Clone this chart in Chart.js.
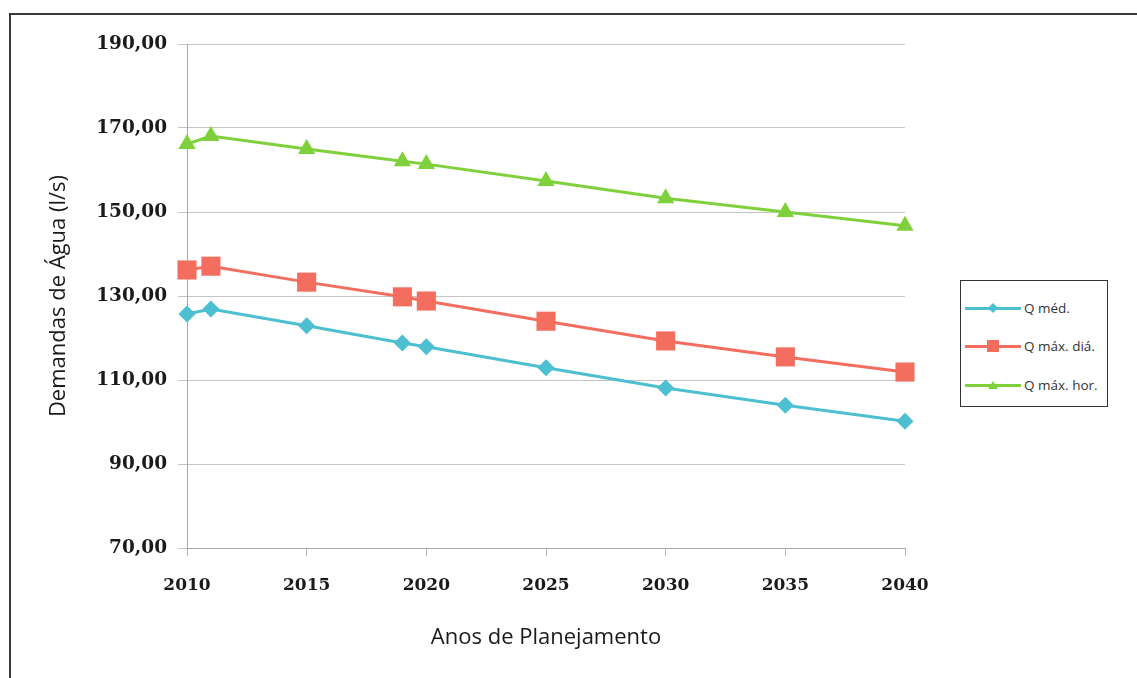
<!DOCTYPE html>
<html lang="pt">
<head>
  <meta charset="UTF-8">
  <title>Demandas de Água</title>
  <script src="https://cdn.jsdelivr.net/npm/chart.js"></script>
  <style>
    html, body { margin: 0; padding: 0; background: #fff; }
    .wrap { position: relative; width: 1137px; height: 678px; overflow: hidden; }
    .frame { position: absolute; left: 9px; top: 13px; width: 1200px; height: 700px;
             border-top: 2px solid #3a3a3a; border-left: 2px solid #3a3a3a; }
    canvas { position: absolute; left: 0; top: 0; }
    .legend { position: absolute; left: 960px; top: 280px; width: 146px; height: 125px;
              border: 1.5px solid #333; background: #fff; font-family: "Open Sans", Lato, sans-serif;
              font-size: 13.5px; color: #333; }
    .legend .row { position: absolute; left: 4px; height: 20px; display: flex; align-items: center; }
    .legend .sym { position: relative; width: 56px; height: 20px; margin-right: 3px; }
    .legend .sym .ln { position: absolute; left: 0; right: 0; top: 8.5px; height: 3px; }
    .legend .sym .mk { position: absolute; left: 50%; top: 50%; }
  </style>
</head>
<body>
<div class="wrap">
  <div class="frame"></div>
  <canvas id="chart" width="1137" height="678"></canvas>
  <div class="legend" id="legend"></div>
</div>
<script>
// --- dados
const anos = [2010, 2011, 2015, 2019, 2020, 2025, 2030, 2035, 2040];
const qMed = [125.7, 126.9, 122.9, 118.8, 117.9, 112.9, 108.1, 104.0, 100.2];
const qMaxDia = [136.2, 137.1, 133.3, 129.8, 128.8, 124.0, 119.3, 115.5, 111.9];
const qMaxHor = [166.2, 168.1, 165.0, 162.1, 161.4, 157.4, 153.3, 150.0, 146.7];
const nomesSeries = ['Q méd.', 'Q máx. diá.', 'Q máx. hor.'];
const coresSeries = ['#4cbfd0', '#f36e5e', '#7fd13b'];
const estilos = ['rectRot', 'rect', 'triangle'];
const raios = [8.5, 13.5, 10];
const yTicks = [70, 90, 110, 130, 150, 170, 190];

function pontos(valores) {
  return anos.map((a, i) => ({ x: a, y: valores[i] }));
}

const series = [qMed, qMaxDia, qMaxHor];
const datasets = series.map((vals, i) => ({
  label: nomesSeries[i],
  data: pontos(vals),
  borderColor: coresSeries[i],
  backgroundColor: coresSeries[i],
  borderWidth: 3,
  pointStyle: estilos[i],
  pointRadius: raios[i],
  pointBorderWidth: 0,
  tension: 0,
  clip: false
}));

const serif = '"DejaVu Serif", "Liberation Serif", serif';
const sans = '"Open Sans", Lato, sans-serif';

const ctx = document.getElementById('chart').getContext('2d');
const chart = new Chart(ctx, {
  type: 'line',
  data: { datasets: datasets },
  options: {
    responsive: false,
    animation: false,
    layout: { padding: { left: 0, top: 44, right: 232, bottom: 0 } },
    plugins: { legend: { display: false }, tooltip: { enabled: false } },
    scales: {
      x: {
        type: 'linear',
        min: 2010, max: 2040,
        afterFit: s => { s.height = 130; },
        ticks: {
          stepSize: 5,
          padding: 19,
          color: '#1a1a1a',
          font: { family: serif, size: 17, weight: 'bold' },
          callback: v => String(v)
        },
        grid: { drawOnChartArea: false, drawTicks: true, tickLength: 8, color: '#b8b8b8' },
        border: { color: '#a8a8a8', width: 1 },
        title: {
          display: true, text: 'Anos de Planejamento', color: '#1a1a1a',
          font: { family: sans, size: 22 }, padding: { top: 0, bottom: 27 }
        }
      },
      y: {
        min: 70, max: 190,
        afterFit: s => { s.width = 187; },
        afterBuildTicks: s => { s.ticks = yTicks.map(v => ({ value: v })); },
        ticks: {
          padding: 11,
          color: '#1a1a1a',
          font: { family: serif, size: 18.5, weight: 'bold' },
          callback: v => v.toFixed(2).replace('.', ',')
        },
        grid: { color: '#c4c4c4', lineWidth: 1, tickLength: 9 },
        border: { color: '#a8a8a8', width: 1 },
        title: {
          display: true, text: 'Demandas de Água (l/s)', color: '#1a1a1a',
          font: { family: sans, size: 22 }, padding: { top: 46, bottom: 0 }
        }
      }
    }
  }
});

// legenda em HTML
const leg = document.getElementById('legend');
const tops = [17, 55, 94];
nomesSeries.forEach((nome, i) => {
  const row = document.createElement('div');
  row.className = 'row';
  row.style.top = tops[i] + 'px';
  let mk = '';
  if (i === 0) mk = `<div class="mk" style="width:7px;height:7px;background:${coresSeries[i]};transform:translate(-50%,-50%) rotate(45deg)"></div>`;
  if (i === 1) mk = `<div class="mk" style="width:12px;height:12px;background:${coresSeries[i]};transform:translate(-50%,-50%)"></div>`;
  if (i === 2) mk = `<div class="mk" style="width:0;height:0;border-left:5px solid transparent;border-right:5px solid transparent;border-bottom:8px solid ${coresSeries[i]};transform:translate(-50%,-50%)"></div>`;
  row.innerHTML = `<div class="sym"><div class="ln" style="background:${coresSeries[i]}"></div>${mk}</div><span>${nome}</span>`;
  leg.appendChild(row);
});
</script>
</body>
</html>
